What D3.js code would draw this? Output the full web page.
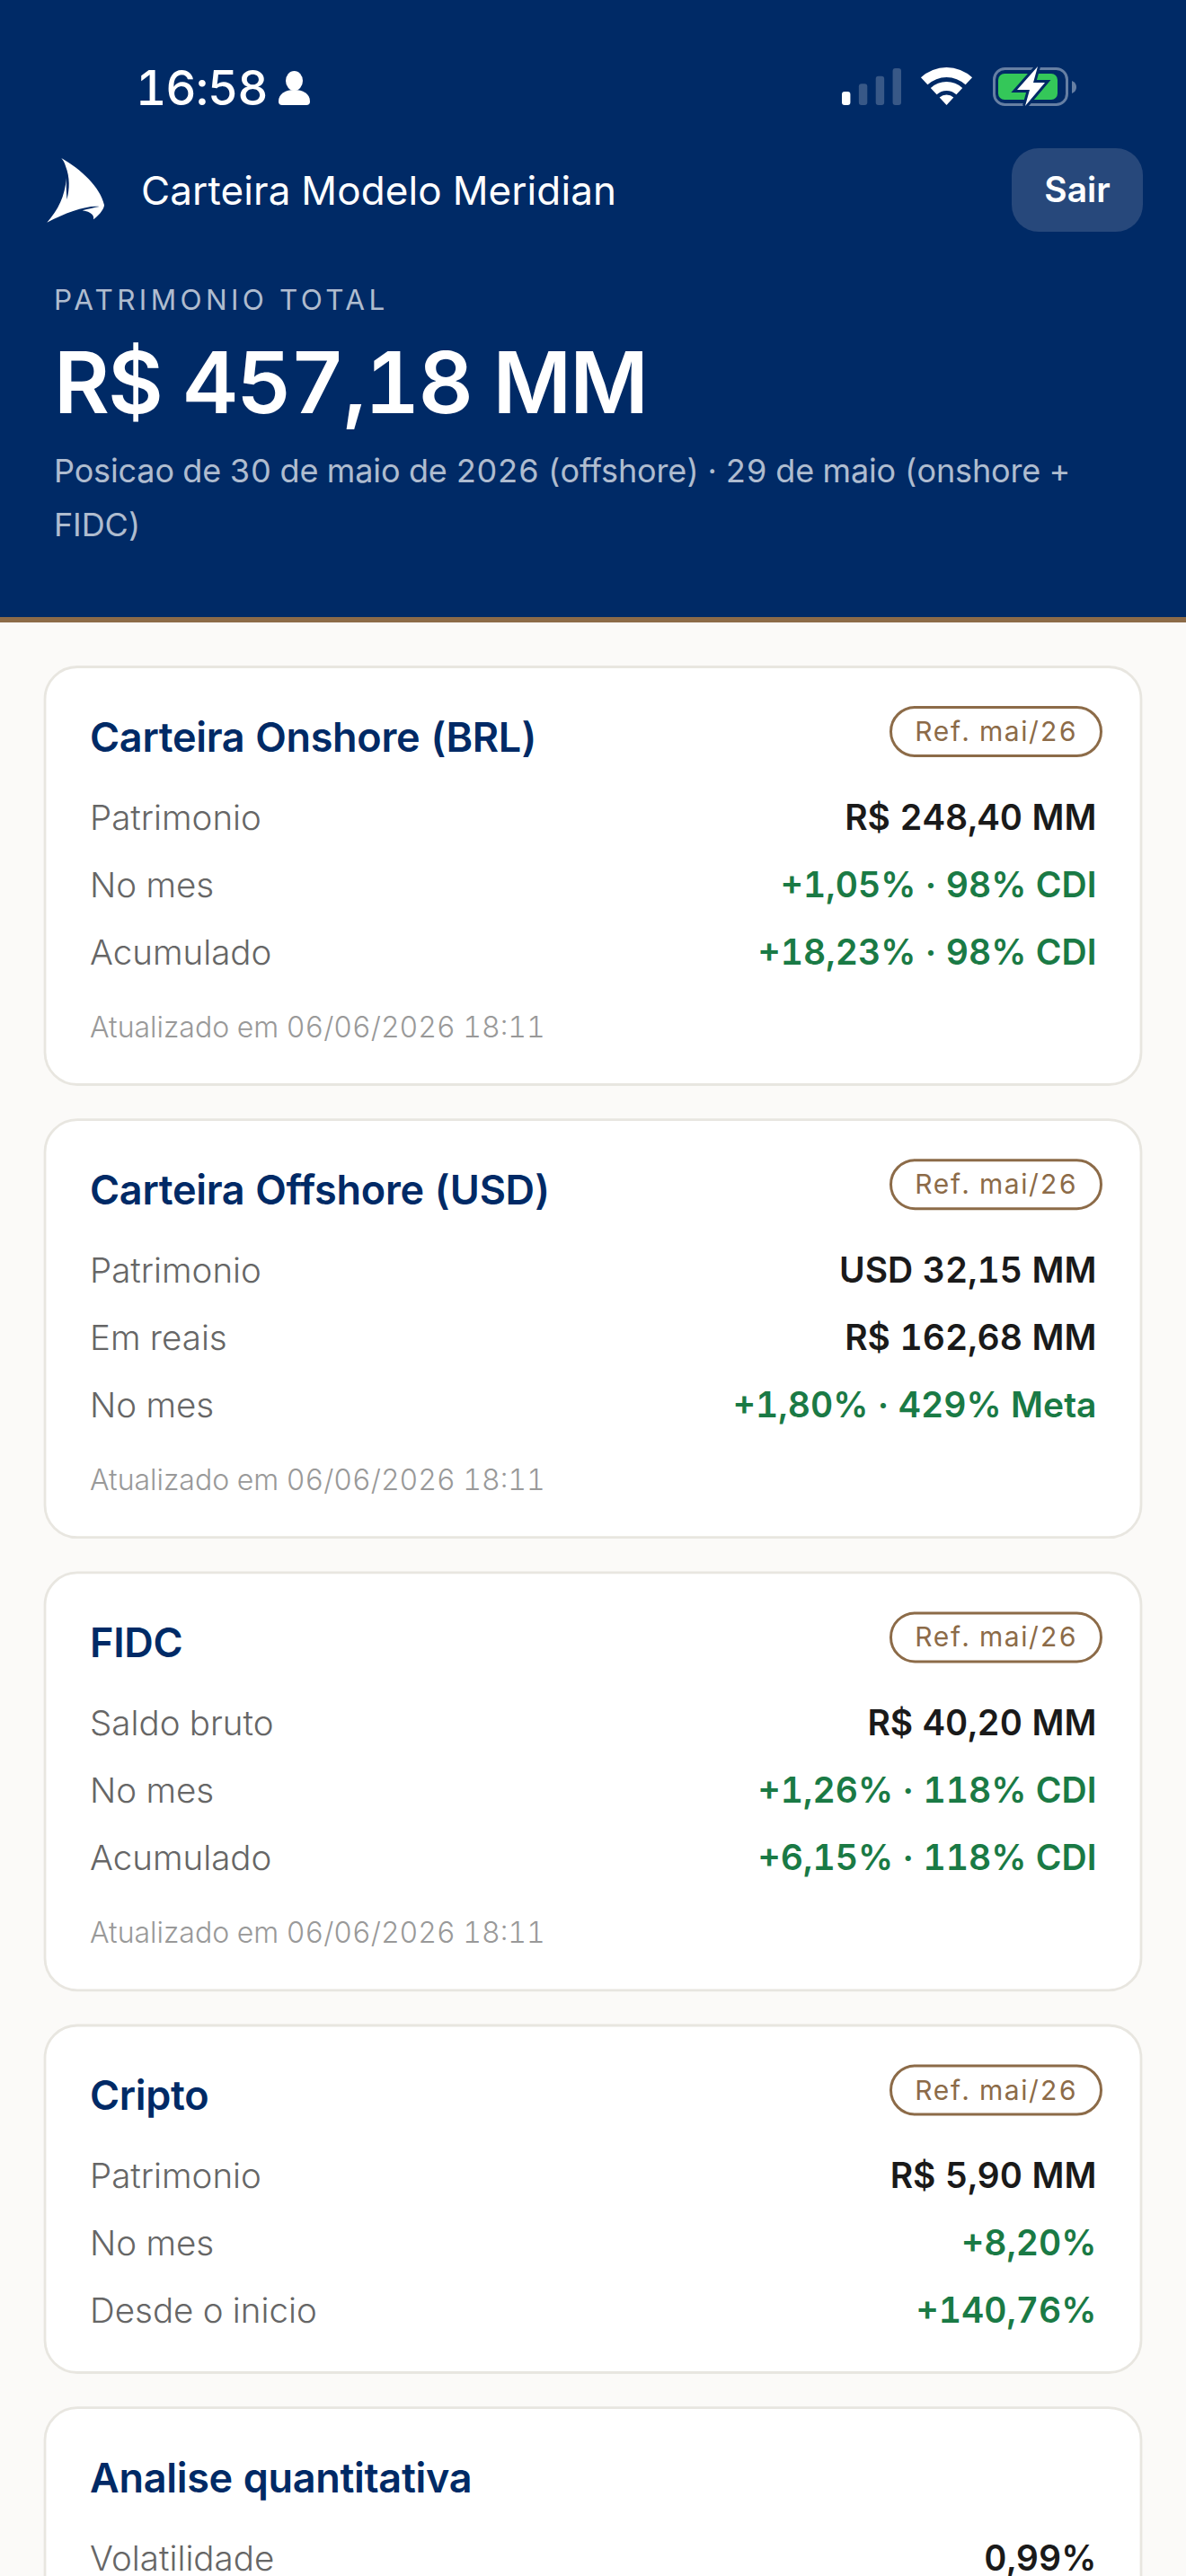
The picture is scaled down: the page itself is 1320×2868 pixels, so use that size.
<!DOCTYPE html>
<html lang="pt-BR">
<head>
<meta charset="utf-8">
<title>Carteira Modelo Meridian</title>
<script src="https://cdn.jsdelivr.net/npm/d3@7"></script>
<style>
  html, body { margin: 0; padding: 0; background: #fbfaf8; overflow: hidden; }
  svg { display: block; }
  text { font-family: Inter, "Noto Sans", sans-serif; font-variant-numeric: tabular-nums; }
</style>
</head>
<body>
<div id="app"></div>
<script>
"use strict";

// header texts
var statusTime = "16:58";
var appTitle = "Carteira Modelo Meridian";
var logoutLabel = "Sair";
var totalLabel = "PATRIMONIO TOTAL";
var totalValue = "R$ 457,18 MM";
var positionLines = [
    "Posicao de 30 de maio de 2026 (offshore) \u00b7 29 de maio (onshore +",
    "FIDC)"
];

// cards
var cardTitles = ["Carteira Onshore (BRL)", "Carteira Offshore (USD)", "FIDC", "Cripto", "Analise quantitativa"];
var cardBadges = ["Ref. mai/26", "Ref. mai/26", "Ref. mai/26", "Ref. mai/26", null];
var cardFooters = ["Atualizado em 06/06/2026 18:11", "Atualizado em 06/06/2026 18:11", "Atualizado em 06/06/2026 18:11", null, null];
var rowLabels = [
    ["Patrimonio", "No mes", "Acumulado"],
    ["Patrimonio", "Em reais", "No mes"],
    ["Saldo bruto", "No mes", "Acumulado"],
    ["Patrimonio", "No mes", "Desde o inicio"],
    ["Volatilidade"]
];
var rowValues = [
    ["R$ 248,40 MM", "+1,05% \u00b7 98% CDI", "+18,23% \u00b7 98% CDI"],
    ["USD 32,15 MM", "R$ 162,68 MM", "+1,80% \u00b7 429% Meta"],
    ["R$ 40,20 MM", "+1,26% \u00b7 118% CDI", "+6,15% \u00b7 118% CDI"],
    ["R$ 5,90 MM", "+8,20%", "+140,76%"],
    ["0,99%"]
];

// signal: 1 of 4 bars lit
var signalBars = [1, 2, 3, 4];
var signalLit = 1;

var W = 1320, H = 2868;
var navy = "#002a66", gold = "#8c6b48", green = "#1a7a45", ink = "#1a1a1a", grey = "#666666", faint = "#999999";

var svg = d3.select("#app").append("svg")
    .attr("width", W)
    .attr("height", H)
    .attr("viewBox", "0 0 " + W + " " + H);

svg.append("rect").attr("width", W).attr("height", H).attr("fill", "#fbfaf8");

// header band
svg.append("rect").attr("width", W).attr("height", 687).attr("fill", navy);
svg.append("rect").attr("y", 687).attr("width", W).attr("height", 6).attr("fill", gold);

// status bar
svg.append("text").attr("x", 151).attr("y", 117)
    .attr("font-size", 53).attr("font-weight", 500).attr("fill", "#fff")
    .attr("letter-spacing", -1)
    .text(statusTime);

var person = svg.append("g").attr("fill", "#fff");
person.append("ellipse").attr("cx", 327.5).attr("cy", 90).attr("rx", 9.5).attr("ry", 11);
person.append("path").attr("d", "M310 113 C310 104 318 100 327.5 100 C337 100 345 104 345 113 Q345 117 341 117 L314 117 Q310 117 310 113 Z");

// signal bars, through a band scale
var sigX = d3.scaleBand().domain(signalBars).range([937, 1003]).paddingInner(0.5).paddingOuter(0);
var sigH = d3.scaleLinear().domain([1, 4]).range([15, 41]);
svg.append("g").selectAll("rect").data(signalBars).enter().append("rect")
    .attr("x", function(d) { return sigX(d); })
    .attr("y", function(d) { return 117 - sigH(d); })
    .attr("width", sigX.bandwidth())
    .attr("height", function(d) { return sigH(d); })
    .attr("rx", 3)
    .attr("fill", function(d) { return d <= signalLit ? "#fff" : "rgba(255,255,255,0.22)"; });

// wifi
var wifiArc = d3.arc().startAngle(-Math.PI / 4.2).endAngle(Math.PI / 4.2);
var wifi = svg.append("g").attr("transform", "translate(1053.5,117)").attr("fill", "#fff");
[[31, 42], [16, 26], [0, 11.5]].forEach(function(r) {
    wifi.append("path").attr("d", wifiArc({innerRadius: r[0], outerRadius: r[1]}));
});

// battery
svg.append("rect").attr("x", 1106.5).attr("y", 76.5).attr("width", 81).attr("height", 40).attr("rx", 12)
    .attr("fill", "none").attr("stroke", "rgba(255,255,255,0.4)").attr("stroke-width", 3);
svg.append("path").attr("d", "M1193 90 Q1198 92 1198 97 Q1198 102 1193 104 Z").attr("fill", "rgba(255,255,255,0.4)");
svg.append("rect").attr("x", 1111).attr("y", 82).attr("width", 66).attr("height", 29).attr("rx", 7).attr("fill", "#34c759");
svg.append("path")
    .attr("d", "M1155 74 L1132 100 L1146 100 L1141 118 L1163 92 L1150 92 Z")
    .attr("fill", "#fff").attr("stroke", navy).attr("stroke-width", 6).attr("paint-order", "stroke");

// logo
svg.append("path")
    .attr("d", "M68.3 176 C90 188.3 111.7 208.3 116 228.3 C116 233.3 108.3 241.7 104 244.3 C105 240 101.7 235.7 91.7 234.3 C98.3 232.7 105 231 110.7 230 C96.7 228.3 73.3 236.7 52.3 247.7 C65 233.3 72 219 74 198 C73.5 208 74 215 74.5 222 C77.5 210 78 198 73 185 C72 181 70 178 68.3 176 Z")
    .attr("fill", "#fff");

svg.append("text").attr("x", 157).attr("y", 228)
    .attr("font-size", 44).attr("font-weight", 400).attr("letter-spacing", 0.1).attr("fill", "#fff")
    .text(appTitle);

// logout button
svg.append("rect").attr("x", 1126).attr("y", 165).attr("width", 146).attr("height", 93).attr("rx", 30).attr("fill", "#27487b");
svg.append("text").attr("x", 1199).attr("y", 225).attr("text-anchor", "middle")
    .attr("font-size", 39).attr("font-weight", 600).attr("fill", "#fff")
    .text(logoutLabel);

// totals
svg.append("text").attr("x", 60).attr("y", 344.7)
    .attr("font-size", 31.5).attr("letter-spacing", 4.35).attr("fill", "rgba(255,255,255,0.7)")
    .text(totalLabel);
svg.append("text").attr("x", 60).attr("y", 460)
    .attr("font-size", 95).attr("font-weight", 600).attr("letter-spacing", -1.9).attr("fill", "#fff")
    .text(totalValue);
svg.append("g").selectAll("text").data(positionLines).enter().append("text")
    .attr("x", 60)
    .attr("y", function(d, i) { return 537 + i * 60; })
    .attr("font-size", 36).attr("letter-spacing", -0.14).attr("fill", "rgba(255,255,255,0.7)")
    .text(function(d) { return d; });

// cards
var cardTops = [742.5, 1246.7, 1750.9, 2255, 2680.6];
var cardHeights = [465, 465, 465, 386.5, 400];
var rowY = d3.scaleLinear().domain([0, 1]).range([181, 256]);

var cards = svg.selectAll("g.card").data(cardTitles).enter().append("g")
    .attr("class", "card")
    .attr("transform", function(d, i) { return "translate(50," + cardTops[i] + ")"; });

cards.append("rect")
    .attr("width", 1220)
    .attr("height", function(d, i) { return cardHeights[i]; })
    .attr("rx", 36)
    .attr("fill", "#fff").attr("stroke", "#e8e6e0").attr("stroke-width", 2.8);

cards.append("text").attr("x", 50).attr("y", 94)
    .attr("font-size", 45).attr("font-weight", 600).attr("letter-spacing", -0.3).attr("fill", navy)
    .text(function(d) { return d; });

cards.each(function(title, i) {
    var card = d3.select(this);

    if (cardBadges[i]) {
        card.append("rect").attr("x", 941.5).attr("y", 45).attr("width", 234).attr("height", 54).attr("rx", 27)
            .attr("fill", "none").attr("stroke", gold).attr("stroke-width", 3);
        card.append("text").attr("x", 1059).attr("y", 82.5).attr("text-anchor", "middle")
            .attr("font-size", 30).attr("letter-spacing", 1.6).attr("fill", gold)
            .text(cardBadges[i]);
    }

    rowLabels[i].forEach(function(label, j) {
        card.append("text").attr("x", 50).attr("y", rowY(j))
            .attr("font-size", 38.5).attr("font-weight", 350).attr("fill", grey)
            .text(label);
        var value = rowValues[i][j];
        card.append("text").attr("x", 1170.5).attr("y", rowY(j)).attr("text-anchor", "end")
            .attr("font-size", 39).attr("font-weight", 600)
            .attr("fill", value.charAt(0) == "+" ? green : ink)
            .text(value);
    });

    if (cardFooters[i]) {
        card.append("text").attr("x", 50).attr("y", 412)
            .attr("font-size", 32).attr("font-weight", 350).attr("fill", faint)
            .text(cardFooters[i]);
    }
});
</script>
</body>
</html>
